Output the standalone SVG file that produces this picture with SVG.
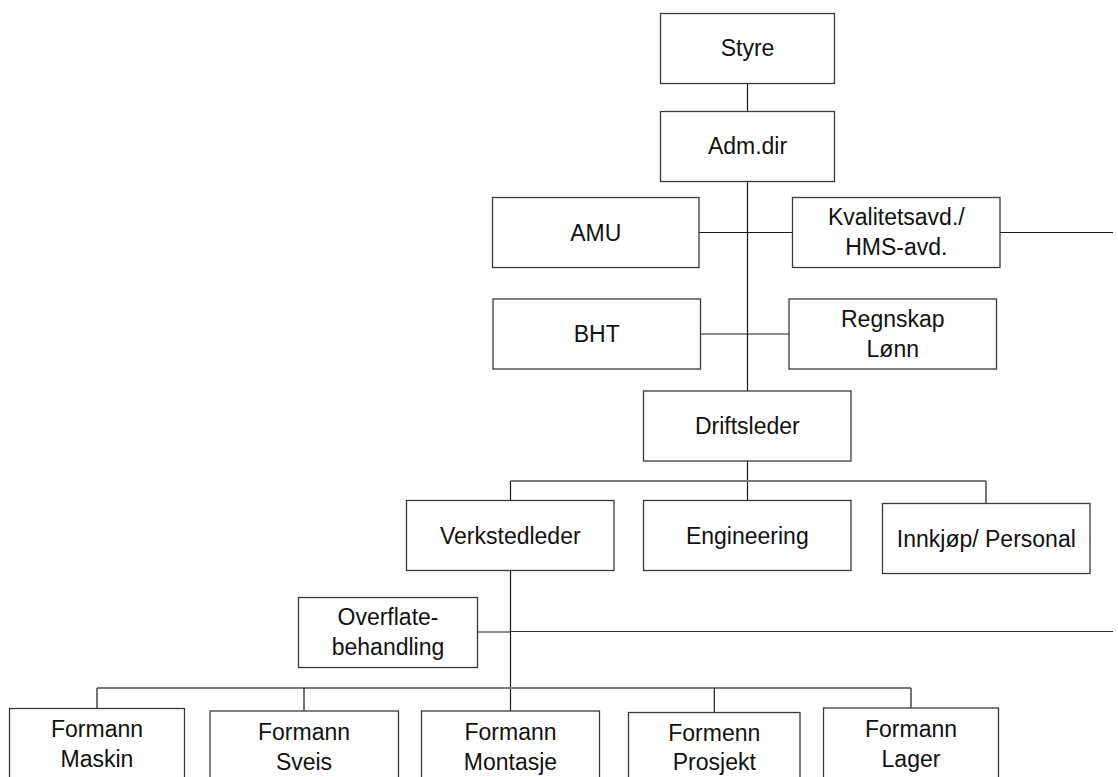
<svg xmlns="http://www.w3.org/2000/svg" width="1118" height="777" viewBox="0 0 1118 777">
  <style>
    .box { fill: #ffffff; stroke: #3a3a3a; stroke-width: 1.3; }
    .lbl { font-family: "Liberation Sans", Arial, sans-serif; font-size: 23px; fill: #111111; text-anchor: middle; }
    .wire { fill: none; stroke: #1a1a1a; stroke-width: 1.2; }
    .bus { fill: none; stroke: #7a7a7a; stroke-width: 2; }
    .thin { fill: none; stroke: #333333; stroke-width: 1; }
  </style>
  <rect x="0" y="0" width="1118" height="777" fill="#ffffff"/>

  <!-- connectors -->
  <g id="connectors">
    <line class="wire" x1="747.5" y1="83.5" x2="747.5" y2="111.5"/>
    <line class="wire" x1="747.5" y1="181.5" x2="747.5" y2="391"/>
    <line class="wire" x1="699" y1="232.5" x2="792.5" y2="232.5"/>
    <line class="wire" x1="1000" y1="232.5" x2="1113" y2="232.5"/>
    <line class="wire" x1="700.5" y1="334" x2="789" y2="334"/>
    <line class="wire" x1="747.5" y1="461" x2="747.5" y2="500.5"/>
    <line class="bus" x1="510.5" y1="481" x2="986" y2="481"/>
    <line class="wire" x1="510.5" y1="481" x2="510.5" y2="500.5"/>
    <line class="wire" x1="986" y1="481" x2="986" y2="503.5"/>
    <line class="wire" x1="510.5" y1="570.5" x2="510.5" y2="711"/>
    <line class="wire" x1="477.5" y1="632" x2="510.5" y2="632"/>
    <line class="thin" x1="510.5" y1="631.5" x2="1113" y2="631.5"/>
    <line class="bus" x1="97" y1="688" x2="911" y2="688"/>
    <line class="wire" x1="97" y1="688" x2="97" y2="708.5"/>
    <line class="wire" x1="304" y1="688" x2="304" y2="711"/>
    <line class="wire" x1="714.3" y1="688" x2="714.3" y2="712.5"/>
    <line class="wire" x1="911" y1="688" x2="911" y2="708"/>
  </g>

  <g id="styre">
    <rect class="box" x="660.5" y="13.5" width="174" height="70"/>
    <text class="lbl" x="747.5" y="56">Styre</text>
  </g>
  <g id="adm-dir">
    <rect class="box" x="660.5" y="111.5" width="174" height="70"/>
    <text class="lbl" x="747.5" y="154">Adm.dir</text>
  </g>
  <g id="amu">
    <rect class="box" x="492.5" y="197.5" width="206.5" height="70"/>
    <text class="lbl" x="595.7" y="240.5">AMU</text>
  </g>
  <g id="kvalitet">
    <rect class="box" x="792.5" y="197.5" width="207.5" height="70"/>
    <text class="lbl" x="896.3" y="225">Kvalitetsavd./</text>
    <text class="lbl" x="896.3" y="255">HMS-avd.</text>
  </g>
  <g id="bht">
    <rect class="box" x="493" y="299" width="207.5" height="70"/>
    <text class="lbl" x="596.7" y="342">BHT</text>
  </g>
  <g id="regnskap">
    <rect class="box" x="789" y="299" width="207.5" height="70"/>
    <text class="lbl" x="892.8" y="326.5">Regnskap</text>
    <text class="lbl" x="892.8" y="356.5">Lønn</text>
  </g>
  <g id="driftsleder">
    <rect class="box" x="643.5" y="391" width="207.5" height="70"/>
    <text class="lbl" x="747.3" y="434">Driftsleder</text>
  </g>
  <g id="verkstedleder">
    <rect class="box" x="406.5" y="500.5" width="207.5" height="70"/>
    <text class="lbl" x="510.3" y="543.5">Verkstedleder</text>
  </g>
  <g id="engineering">
    <rect class="box" x="643.5" y="500.5" width="207.5" height="70"/>
    <text class="lbl" x="747.3" y="543.5">Engineering</text>
  </g>
  <g id="innkjop">
    <rect class="box" x="882.5" y="503.5" width="207.5" height="70"/>
    <text class="lbl" x="986.3" y="546.5">Innkjøp/ Personal</text>
  </g>
  <g id="overflate">
    <rect class="box" x="298.5" y="597.5" width="179" height="70"/>
    <text class="lbl" x="388" y="625">Overflate-</text>
    <text class="lbl" x="388" y="655">behandling</text>
  </g>
  <g id="maskin">
    <rect class="box" x="9.5" y="708.5" width="175" height="80"/>
    <text class="lbl" x="97" y="737">Formann</text>
    <text class="lbl" x="97" y="766.5">Maskin</text>
  </g>
  <g id="sveis">
    <rect class="box" x="210" y="711" width="188.5" height="80"/>
    <text class="lbl" x="304" y="740">Formann</text>
    <text class="lbl" x="304" y="769.5">Sveis</text>
  </g>
  <g id="montasje">
    <rect class="box" x="421.5" y="711" width="178" height="80"/>
    <text class="lbl" x="510.5" y="740">Formann</text>
    <text class="lbl" x="510.5" y="769.5">Montasje</text>
  </g>
  <g id="prosjekt">
    <rect class="box" x="628.5" y="712.5" width="171.5" height="80"/>
    <text class="lbl" x="714.3" y="741">Formenn</text>
    <text class="lbl" x="714.3" y="770">Prosjekt</text>
  </g>
  <g id="lager">
    <rect class="box" x="823.5" y="708" width="175" height="80"/>
    <text class="lbl" x="911" y="737">Formann</text>
    <text class="lbl" x="911" y="766.5">Lager</text>
  </g>
</svg>
